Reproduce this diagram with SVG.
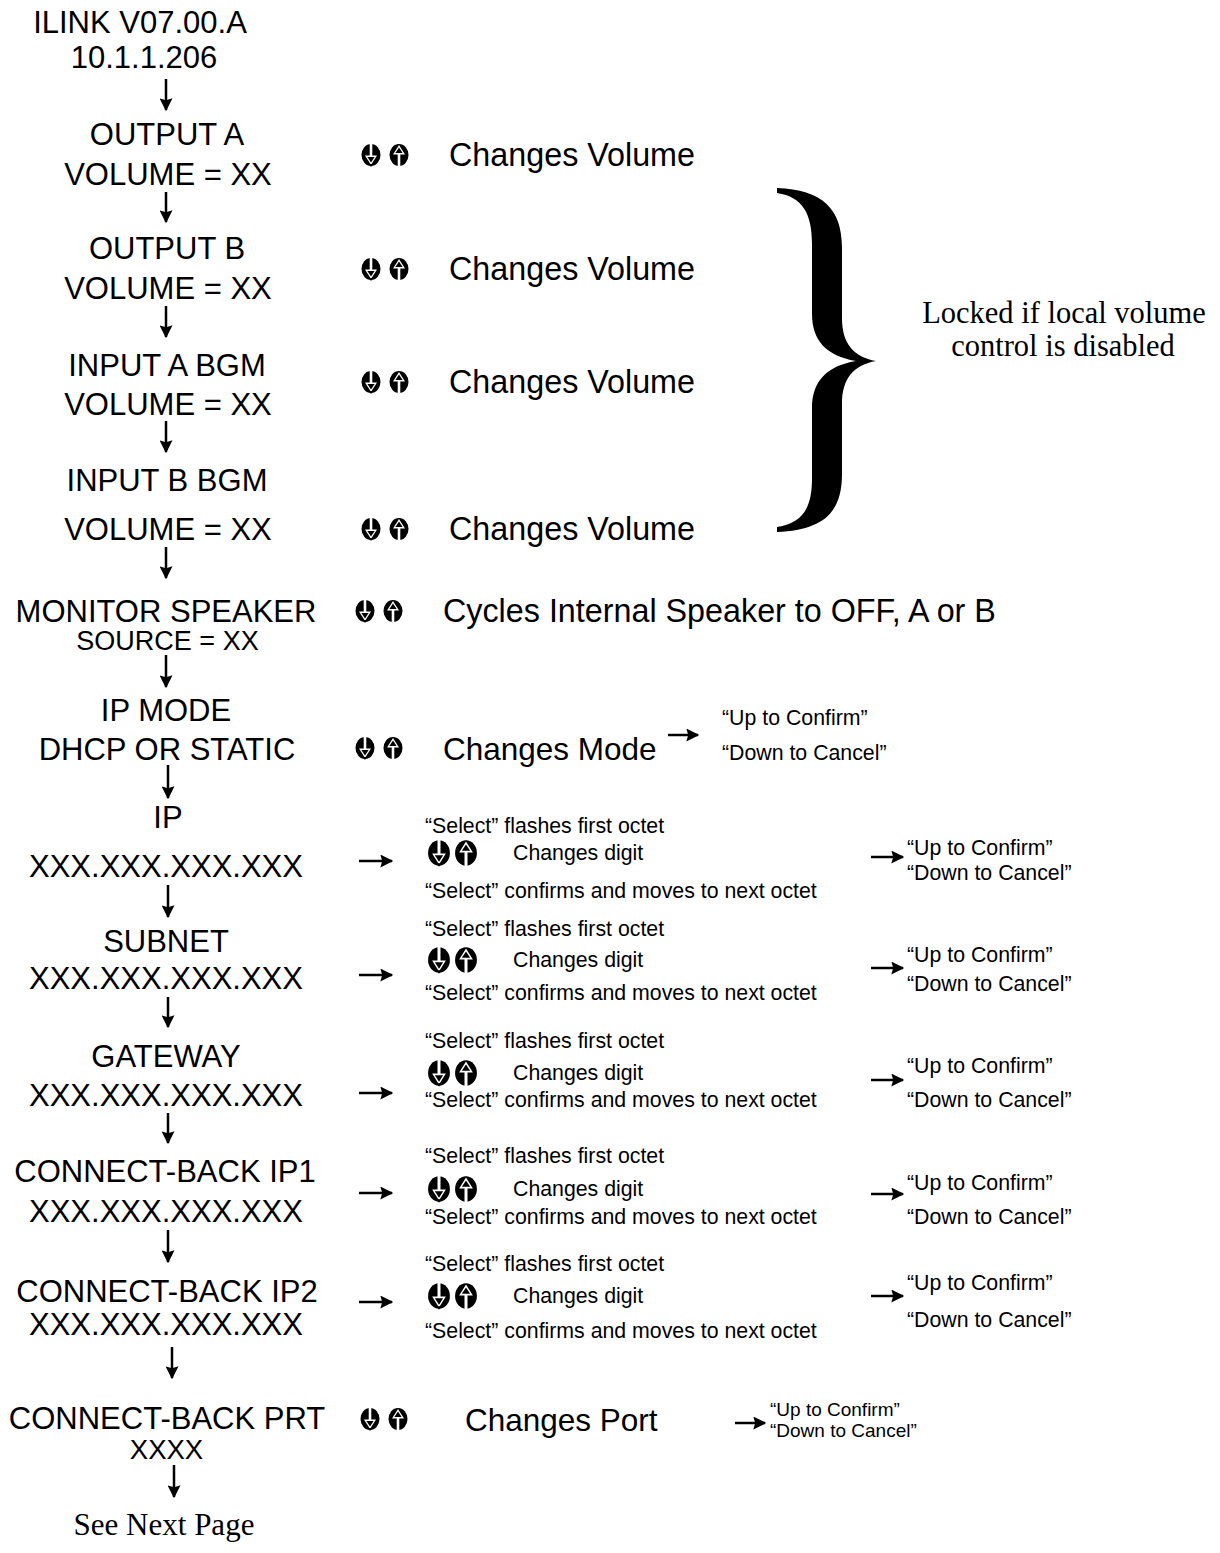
<svg xmlns="http://www.w3.org/2000/svg" width="1220" height="1553" viewBox="0 0 1220 1553">
<style>
.t{font-family:"Liberation Sans",Arial,sans-serif;font-size:31px;fill:#000;text-anchor:middle}
.r{font-family:"Liberation Sans",Arial,sans-serif;font-size:32.3px;fill:#000}
.s{font-family:"Liberation Sans",Arial,sans-serif;font-size:21.3px;fill:#000}
.q{font-family:"Liberation Sans",Arial,sans-serif;font-size:19px;fill:#000}
.tm{font-family:"Liberation Serif","Times New Roman",serif;font-size:30.5px;fill:#000;text-anchor:middle}
.c line{stroke:#000;stroke-width:2.5;fill:none}
</style>
<defs>
<marker id="ah" viewBox="0 0 10 10" refX="9" refY="5" markerUnits="userSpaceOnUse" markerWidth="16" markerHeight="13" orient="auto">
<path d="M0,0 L10,5 L0,10 L1.5,5 Z" fill="#000"/>
</marker>
<g id="dn">
<ellipse cx="0" cy="0" rx="9.5" ry="11" fill="#000"/>
<rect x="-1.3" y="-11.5" width="2.6" height="13" fill="#fff"/>
<path d="M-6,0.5 L6,0.5 L0,10 Z" fill="#fff"/>
<path d="M-3.6,2 L3.6,2 L0,7.5 Z" fill="#000"/>
<path d="M-2,9 L2,9 L0,12 Z" fill="#000"/>
</g>
<g id="up">
<ellipse cx="0" cy="0" rx="9.5" ry="11" fill="#000"/>
<rect x="-1.3" y="-1.5" width="2.6" height="13" fill="#fff"/>
<path d="M-6,-0.5 L6,-0.5 L0,-10 Z" fill="#fff"/>
<path d="M-3.6,-2 L3.6,-2 L0,-7.5 Z" fill="#000"/>
</g>
<g id="ud">
<use href="#dn"/>
<use href="#up" x="28"/>
</g>
<g id="udL">
<use href="#dn" transform="scale(1.15)"/>
<use href="#up" transform="translate(27,0) scale(1.15)"/>
</g>
</defs>
<rect width="1220" height="1553" fill="#fff"/>

<g id="n-ilink"><text class="t" x="140" y="33">ILINK V07.00.A</text><text class="t" x="144" y="68">10.1.1.206</text></g>
<g id="n-outa"><text class="t" x="167" y="145">OUTPUT A</text><text class="t" x="168" y="185">VOLUME = XX</text>
<use href="#ud" x="371" y="155"/><text class="r" x="449" y="166">Changes Volume</text></g>
<g id="n-outb"><text class="t" x="167" y="259">OUTPUT B</text><text class="t" x="168" y="299">VOLUME = XX</text>
<use href="#ud" x="371" y="269"/><text class="r" x="449" y="280">Changes Volume</text></g>
<g id="n-ina"><text class="t" x="167" y="376">INPUT A BGM</text><text class="t" x="168" y="415">VOLUME = XX</text>
<use href="#ud" x="371" y="382"/><text class="r" x="449" y="393">Changes Volume</text></g>
<g id="n-inb"><text class="t" x="167" y="491">INPUT B BGM</text><text class="t" x="168" y="540">VOLUME = XX</text>
<use href="#ud" x="371" y="529"/><text class="r" x="449" y="540">Changes Volume</text></g>
<g id="n-brace">
<path d="M777,188 C822,190 842,208 842,248 L842,318 C842,344 854,357 876,361 C854,365 842,378 842,404 L842,474 C842,514 822,530 777,532 L777,527 C803,523 812,508 812,478 L812,408 C812,382 826,366 856,361 C826,356 812,340 812,314 L812,244 C812,214 803,197 777,193 Z" fill="#000"/>
<text class="tm" x="1064" y="323">Locked if local volume</text>
<text class="tm" x="1063" y="356">control is disabled</text>
</g>
<g id="n-mon"><text class="t" x="166" y="622">MONITOR SPEAKER</text><text class="t" x="167.5" y="650" style="font-size:27px">SOURCE = XX</text>
<use href="#ud" x="365" y="611"/><text class="r" x="443" y="622">Cycles Internal Speaker to OFF, A or B</text></g>
<g id="n-ipmode"><text class="t" x="166" y="721">IP MODE</text><text class="t" x="167" y="760">DHCP OR STATIC</text>
<use href="#ud" x="365" y="748"/><text class="r" x="443" y="760" style="font-size:31.5px">Changes Mode</text>
<text class="s" x="722" y="725">“Up to Confirm”</text><text class="s" x="722" y="760">“Down to Cancel”</text></g>
<g id="n-ip"><text class="t" x="168" y="828">IP</text><text class="t" x="166" y="877">XXX.XXX.XXX.XXX</text>
<text class="s" x="425" y="833">“Select” flashes first octet</text><use href="#udL" x="439" y="853"/><text class="s" x="513" y="860">Changes digit</text>
<text class="s" x="425" y="898">“Select” confirms and moves to next octet</text>
<text class="s" x="907" y="855">“Up to Confirm”</text><text class="s" x="907" y="880">“Down to Cancel”</text></g>
<g id="n-subnet"><text class="t" x="166" y="952">SUBNET</text><text class="t" x="166" y="989">XXX.XXX.XXX.XXX</text>
<text class="s" x="425" y="936">“Select” flashes first octet</text><use href="#udL" x="439" y="960"/><text class="s" x="513" y="967">Changes digit</text>
<text class="s" x="425" y="1000">“Select” confirms and moves to next octet</text>
<text class="s" x="907" y="962">“Up to Confirm”</text><text class="s" x="907" y="991">“Down to Cancel”</text></g>
<g id="n-gw"><text class="t" x="166" y="1067">GATEWAY</text><text class="t" x="166" y="1106">XXX.XXX.XXX.XXX</text>
<text class="s" x="425" y="1048">“Select” flashes first octet</text><use href="#udL" x="439" y="1073"/><text class="s" x="513" y="1080">Changes digit</text>
<text class="s" x="425" y="1107">“Select” confirms and moves to next octet</text>
<text class="s" x="907" y="1073">“Up to Confirm”</text><text class="s" x="907" y="1107">“Down to Cancel”</text></g>
<g id="n-cb1"><text class="t" x="165" y="1182">CONNECT-BACK IP1</text><text class="t" x="166" y="1222">XXX.XXX.XXX.XXX</text>
<text class="s" x="425" y="1163">“Select” flashes first octet</text><use href="#udL" x="439" y="1189"/><text class="s" x="513" y="1196">Changes digit</text>
<text class="s" x="425" y="1224">“Select” confirms and moves to next octet</text>
<text class="s" x="907" y="1190">“Up to Confirm”</text><text class="s" x="907" y="1224">“Down to Cancel”</text></g>
<g id="n-cb2"><text class="t" x="167" y="1302">CONNECT-BACK IP2</text><text class="t" x="166" y="1335">XXX.XXX.XXX.XXX</text>
<text class="s" x="425" y="1271">“Select” flashes first octet</text><use href="#udL" x="439" y="1296"/><text class="s" x="513" y="1303">Changes digit</text>
<text class="s" x="425" y="1338">“Select” confirms and moves to next octet</text>
<text class="s" x="907" y="1290">“Up to Confirm”</text><text class="s" x="907" y="1327">“Down to Cancel”</text></g>
<g id="n-prt"><text class="t" x="167" y="1429">CONNECT-BACK PRT</text><text class="t" x="166.5" y="1459" style="font-size:27.5px">XXXX</text>
<use href="#ud" x="370" y="1419"/><text class="r" x="465" y="1431" style="font-size:31.5px">Changes Port</text>
<text class="q" x="770" y="1416">“Up to Confirm”</text><text class="q" x="770" y="1437">“Down to Cancel”</text></g>
<g id="n-next"><text class="tm" x="164" y="1535" style="font-size:31px">See Next Page</text></g>

<g id="connectors" class="c">
<line x1="166" y1="79" x2="166" y2="110" marker-end="url(#ah)"/>
<line x1="166" y1="192" x2="166" y2="222" marker-end="url(#ah)"/>
<line x1="166" y1="306" x2="166" y2="337" marker-end="url(#ah)"/>
<line x1="166" y1="421" x2="166" y2="452" marker-end="url(#ah)"/>
<line x1="166" y1="547" x2="166" y2="578" marker-end="url(#ah)"/>
<line x1="166" y1="655" x2="166" y2="687" marker-end="url(#ah)"/>
<line x1="168" y1="765" x2="168" y2="798" marker-end="url(#ah)"/>
<line x1="168" y1="885" x2="168" y2="917" marker-end="url(#ah)"/>
<line x1="168" y1="997" x2="168" y2="1027" marker-end="url(#ah)"/>
<line x1="168" y1="1113" x2="168" y2="1143" marker-end="url(#ah)"/>
<line x1="168" y1="1230" x2="168" y2="1262" marker-end="url(#ah)"/>
<line x1="172" y1="1347" x2="172" y2="1378" marker-end="url(#ah)"/>
<line x1="174" y1="1465" x2="174" y2="1497" marker-end="url(#ah)"/>
<line x1="668" y1="735" x2="698" y2="735" marker-end="url(#ah)"/>
<line x1="735" y1="1423" x2="765" y2="1423" marker-end="url(#ah)"/>
<line x1="359" y1="861" x2="392" y2="861" marker-end="url(#ah)"/>
<line x1="359" y1="975" x2="392" y2="975" marker-end="url(#ah)"/>
<line x1="359" y1="1093" x2="392" y2="1093" marker-end="url(#ah)"/>
<line x1="359" y1="1193" x2="392" y2="1193" marker-end="url(#ah)"/>
<line x1="359" y1="1302" x2="392" y2="1302" marker-end="url(#ah)"/>
<line x1="871" y1="857" x2="903" y2="857" marker-end="url(#ah)"/>
<line x1="871" y1="968" x2="903" y2="968" marker-end="url(#ah)"/>
<line x1="871" y1="1080" x2="903" y2="1080" marker-end="url(#ah)"/>
<line x1="871" y1="1194" x2="903" y2="1194" marker-end="url(#ah)"/>
<line x1="871" y1="1296" x2="903" y2="1296" marker-end="url(#ah)"/>
</g>
</svg>
